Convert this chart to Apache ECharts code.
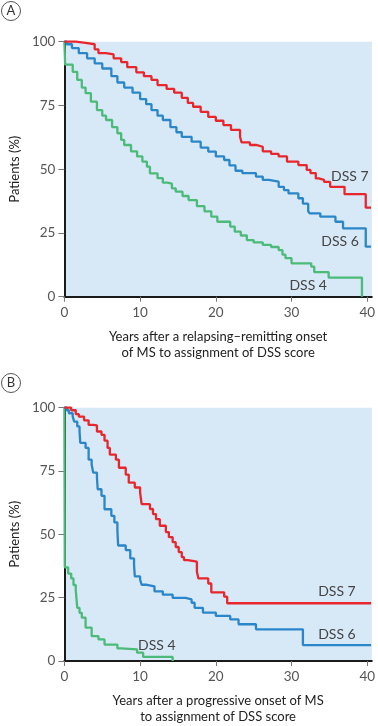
<!DOCTYPE html>
<html>
<head>
<meta charset="utf-8">
<script src="https://cdn.jsdelivr.net/npm/echarts@6/dist/echarts.min.js"></script>
<style>
  html, body { margin: 0; padding: 0; background: #fff; }
  #chart { width: 378px; height: 726px; }
</style>
</head>
<body>
<div id="chart"></div>
<script>
// tick values
var xTicks = [0, 10, 20, 30, 40];
var yTicks = [0, 25, 50, 75, 100];

// panel A: relapsing-remitting onset  [years, % patients]
var aDss7 = [[0,100],[1.5,99.5],[2.8,99],[4.0,97],[4.5,95.5],[5.5,95],[6.5,93.5],[7.5,92],[8.3,90],[9.5,88],[10.5,86.5],[11.5,85],[12.3,83],[13.5,81.5],[14.5,80],[15.5,78],[16.3,76],[17,74.5],[18,72.5],[19,70.5],[20,69],[21,67.3],[22,65.4],[23.2,62.7],[23.4,60.5],[24.5,59.5],[25.3,58.8],[26.2,57],[27.3,56],[28.3,55],[29.4,53],[30.9,51.6],[32.0,49.7],[32.5,48.5],[33.2,46.4],[33.6,45.8],[34.3,45],[35.1,43.1],[37.0,40.2],[39.8,34.9],[40.5,34.9]];
var aDss6 = [[0,100],[0.3,99],[1,97.5],[1.9,95.5],[3,93.5],[4,91.5],[5,89.5],[6.2,86.5],[7,84],[7.9,82],[9,80],[10,77.5],[10.8,75.5],[11.5,73.2],[12.3,71],[13,69.3],[14,66.5],[14.8,64.5],[15.5,62.7],[16.8,60.8],[18,58.5],[19,56.9],[20,55],[21.1,53.6],[21.8,51.5],[22.6,49.4],[23.5,48.5],[25.3,47.1],[26.2,45.8],[27,45.1],[28.3,43.1],[29,41.8],[29.6,40.5],[30.9,38.6],[31.5,36.5],[32.2,33.5],[32.4,32.7],[33.8,31.4],[35.8,29.4],[36.8,26.8],[39.8,19.6],[40.5,19.6]];
var aDss4 = [[0,100],[0.1,91],[1.1,88.2],[1.7,85],[2.3,82],[2.8,79.8],[3.5,76.5],[4.3,73.2],[5,71],[5.5,69.3],[6.3,66.5],[7,64.1],[7.5,61.5],[7.9,59.5],[8.8,57],[9.6,55],[10.3,53],[10.9,51],[11.3,48.4],[12.3,46.5],[13,44.7],[13.6,44.3],[14.2,42.5],[14.7,41.2],[15.6,39.5],[16.4,37.9],[17.5,35.5],[18.5,33.5],[19.4,31.4],[20.2,29.4],[21.9,27.5],[22.5,25.5],[23.3,24],[24.1,22.2],[25,21.3],[26.2,20.3],[27.3,19.5],[28.3,18.3],[28.8,16.5],[29.2,15.1],[30,13.1],[32.6,11.8],[33,9.6],[34.9,7.5],[39.3,0]];

// panel B: progressive onset
var bDss7 = [[0,100],[0.9,99],[1.5,97.5],[1.9,96.5],[2.6,95],[3.2,93.2],[3.8,93],[4.3,90.6],[4.9,89.3],[5.3,87],[5.7,84.1],[6,81.5],[6.8,79.5],[7.2,76.3],[8.1,73.6],[8.5,70.4],[9.3,68.5],[10,66.5],[10.2,61.9],[11.3,60],[11.7,58],[12.1,56],[12.6,53.4],[13.4,50.9],[13.8,48.9],[14.3,46.9],[14.7,45],[15.1,43],[15.5,41],[15.8,39.8],[16.3,39.2],[17.5,35.2],[17.7,32.6],[19.0,30.6],[19.4,27.1],[21.1,25.4],[21.5,22.8],[40.5,22.8]];
var bDss6 = [[0,100],[0.3,99],[0.6,97.8],[1.1,96.5],[1.3,94.5],[1.7,92.6],[2.0,90.6],[2.1,86.1],[2.8,84.1],[3.2,79.5],[3.6,77.6],[3.8,74.4],[4.3,72.4],[4.4,67.8],[4.9,65.2],[5.3,59.9],[6.2,57.3],[6.6,54.7],[7.0,51.5],[7.1,45.6],[8.1,43.8],[8.7,40.5],[9.2,37.9],[9.3,33.4],[10.0,32.1],[10.2,30.1],[10.9,29.5],[11.9,27.5],[13.0,26.2],[14.3,24.9],[16.0,24.3],[16.8,23],[17.2,21],[18.3,19.1],[20.0,17.8],[21.9,16.4],[23.0,14.5],[25.3,12.5],[31.5,6.3],[40.5,6.3]];
var bDss4 = [[0,100],[0.05,37],[0.5,34.5],[0.9,32.6],[1.2,30],[1.5,28],[1.7,21],[2.0,19],[2.3,17.1],[2.8,13.2],[3.6,9.8],[4.5,8.5],[5.3,6.5],[7.0,5],[7.5,4.6],[9.6,3.3],[10.4,1.6],[14.3,0]];

// curve label positions [years, %]
var aLabels = [['DSS 7', 37.7, 47.1], ['DSS 6', 36.4, 21.5], ['DSS 4', 32.2, 4.5]];
var bLabels = [['DSS 7', 36.0, 27.4], ['DSS 6', 36.0, 10.6], ['DSS 4', 12.2, 6.2]];

var FONT = 'Lato';
var RED = '#e8262d', BLUE = '#2a86c9', GREEN = '#4cba78';

var chart = echarts.init(document.getElementById('chart'), null, { renderer: 'canvas' });

function xAx(idx, title) {
    return {
        type: 'value', gridIndex: idx, min: 0, max: 40.6,
        axisLine: { show: true, onZero: false, lineStyle: { color: '#1a1a1a', width: 2 } },
        axisTick: { show: true, length: 5, customValues: xTicks, lineStyle: { color: '#777' } },
        axisLabel: { customValues: xTicks, margin: 9, color: '#555', fontSize: 13.5, fontFamily: FONT },
        splitLine: { show: false },
        name: title, nameLocation: 'middle', nameGap: 32,
        nameTextStyle: { color: '#222', fontSize: 13, fontFamily: FONT, lineHeight: 16 }
    };
}
function yAx(idx) {
    return {
        type: 'value', gridIndex: idx, min: 0, max: 100, interval: 25,
        axisLine: { show: true, onZero: false, lineStyle: { color: '#1a1a1a', width: 2 } },
        axisTick: { show: true, length: 6, lineStyle: { color: '#777' } },
        axisLabel: { margin: 9, color: '#555', fontSize: 13.5, fontFamily: FONT },
        splitLine: { show: false },
        name: 'Patients (%)', nameLocation: 'middle', nameGap: 36,
        nameTextStyle: { color: '#222', fontSize: 13, fontFamily: FONT }
    };
}
function curve(idx, data, color, labels) {
    var s = {
        type: 'line', xAxisIndex: idx, yAxisIndex: idx, data: data, step: 'end',
        showSymbol: false, clip: false, silent: true,
        lineStyle: { color: color, width: 2.3 }, z: 3
    };
    if (labels) {
        s.markPoint = {
            symbol: 'circle', symbolSize: 0, silent: true,
            label: { show: true, position: 'inside', formatter: '{b}', color: '#444', fontSize: 14, fontFamily: FONT },
            data: [{ name: labels[0], coord: [labels[1], labels[2]] }]
        };
    }
    return s;
}
function badge(letter, cy) {
    return [
        { type: 'circle', shape: { cx: 11, cy: cy, r: 9.5 }, style: { fill: '#fff', stroke: '#555', lineWidth: 1 } },
        { type: 'text', x: 11, y: cy, style: { text: letter, fill: '#333', font: '13px ' + FONT, align: 'center', verticalAlign: 'middle' } }
    ];
}

chart.setOption({
    animation: false,
    grid: [
        { left: 58.3, top: 41.7, width: 317.4, height: 255, show: true, backgroundColor: '#d7e8f6', borderWidth: 0 },
        { left: 58.3, top: 407.7, width: 317.4, height: 255.6, show: true, backgroundColor: '#d7e8f6', borderWidth: 0 }
    ],
    xAxis: [
        xAx(0, 'Years after a relapsing\u2013remitting onset\nof MS to assignment of DSS score'),
        xAx(1, 'Years after a progressive onset of MS\nto assignment of DSS score')
    ],
    yAxis: [yAx(0), yAx(1)],
    series: [
        curve(0, aDss4, GREEN, aLabels[2]),
        curve(0, aDss6, BLUE, aLabels[1]),
        curve(0, aDss7, RED, aLabels[0]),
        curve(1, bDss4, GREEN, bLabels[2]),
        curve(1, bDss6, BLUE, bLabels[1]),
        curve(1, bDss7, RED, bLabels[0])
    ],
    graphic: badge('A', 11).concat(badge('B', 383))
});
</script>
</body>
</html>
